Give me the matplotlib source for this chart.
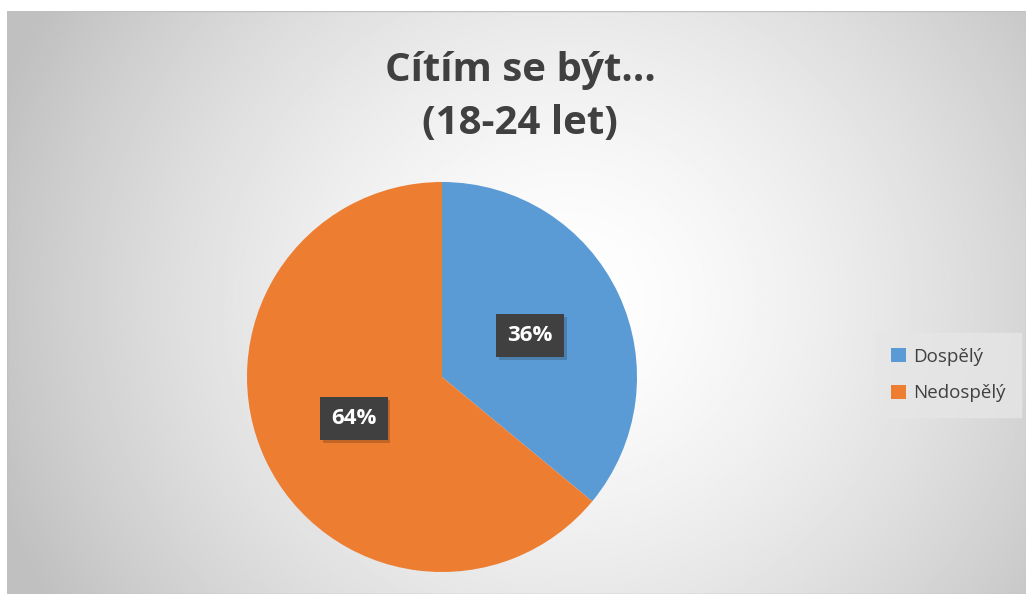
"""Pie chart: Cítím se být… (18-24 let)."""

import numpy as np
import matplotlib.pyplot as plt
import matplotlib.patheffects as pe
from matplotlib.patches import Rectangle

categories = ["Dospělý", "Nedospělý"]
shares = [36, 64]
colors = ["#5B9BD5", "#ED7D31"]
title = "Cítím se být…\n(18-24 let)"

plt.rcParams["font.family"] = ["Open Sans", "DejaVu Sans"]

fig = plt.figure(figsize=(10.26, 5.94), dpi=100)

# radial gradient background inside the chart frame
bg = fig.add_axes([7 / 1026, 0, 1 - 7 / 1026, 1 - 11 / 594])
bg.set_axis_off()
yy, xx = np.mgrid[0:1:300j, 0:1:500j]
dist = np.sqrt(((xx - 0.55) * 1.0) ** 2 + ((yy - 0.5) * 0.6) ** 2)
shade = 1.0 - 0.25 * np.clip(dist / 0.6, 0, 1) ** 1.5
bg.imshow(shade, cmap="gray", vmin=0, vmax=1, extent=(0, 1, 0, 1), aspect="auto")
bg.add_patch(Rectangle((0, 0), 1, 1, transform=bg.transAxes, fill=False,
                       edgecolor="#c0c0c0", linewidth=1))

# pie centred at (442, 377) px with radius ~195 px
r = 195
ax = fig.add_axes([(442 - r) / 1026, (594 - 377 - r) / 594, 2 * r / 1026, 2 * r / 594])
wedges, _, autotexts = ax.pie(
    shares,
    colors=colors,
    startangle=90,
    counterclock=False,
    autopct="%d%%",
    pctdistance=0.5,
    wedgeprops=dict(edgecolor="none"),
    textprops=dict(color="white", fontsize=16, fontweight="bold"),
)
for t in autotexts:
    t.set_bbox(dict(boxstyle="square,pad=0.5", facecolor="#404040", edgecolor="none"))
    t.get_bbox_patch().set_path_effects(
        [pe.SimplePatchShadow(offset=(2, -2), shadow_rgbFace="#000000", alpha=0.18), pe.Normal()]
    )
ax.set_xlim(-1, 1)
ax.set_ylim(-1, 1)
ax.set_aspect("equal")

fig.text(520 / 1026, 1 - 97 / 594, title, ha="center", va="center",
         fontsize=29, fontweight="bold", color="#404040", linespacing=1.5)

leg = fig.legend(wedges, categories, loc="center", bbox_to_anchor=(948 / 1026, 1 - 375 / 594),
                 frameon=True, fontsize=13.5, handlelength=0.8, handleheight=0.8,
                 handletextpad=0.4, labelspacing=1.0, borderpad=0.8, fancybox=False)
leg.get_frame().set_facecolor("#e6e6e6")
leg.get_frame().set_edgecolor("#e6e6e6")
for txt in leg.get_texts():
    txt.set_color("#404040")

fig.savefig("out.png", dpi=100)
